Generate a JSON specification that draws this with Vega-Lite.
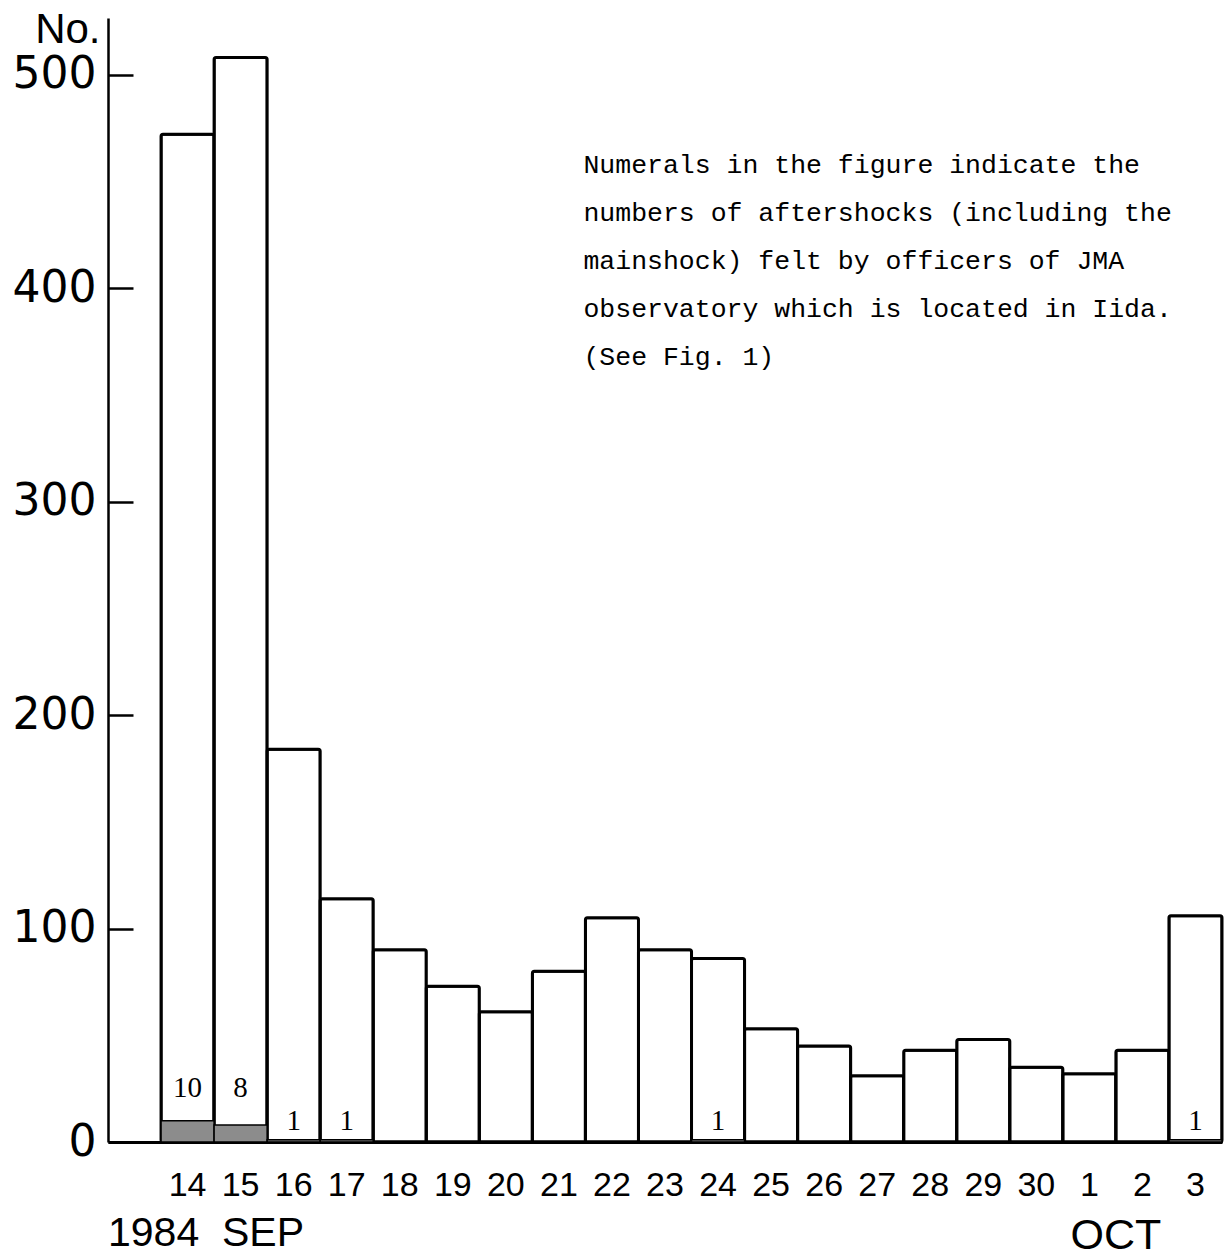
{
  "$schema": "https://vega.github.io/schema/vega-lite/v6.json",
  "autosize": "none",
  "padding": {"left": 108, "top": 18, "right": 3, "bottom": 116},
  "width": 1114,
  "height": 1124,
  "background": "white",
  "config": {"view": {"stroke": null}},
  "data": {
    "values": [
      {"date": "14", "total": 472, "felt": 10},
      {"date": "15", "total": 508, "felt": 8},
      {"date": "16", "total": 184, "felt": 1},
      {"date": "17", "total": 114, "felt": 1},
      {"date": "18", "total": 90, "felt": 0},
      {"date": "19", "total": 73, "felt": 0},
      {"date": "20", "total": 61, "felt": 0},
      {"date": "21", "total": 80, "felt": 0},
      {"date": "22", "total": 105, "felt": 0},
      {"date": "23", "total": 90, "felt": 0},
      {"date": "24", "total": 86, "felt": 1},
      {"date": "25", "total": 53, "felt": 0},
      {"date": "26", "total": 45, "felt": 0},
      {"date": "27", "total": 31, "felt": 0},
      {"date": "28", "total": 43, "felt": 0},
      {"date": "29", "total": 48, "felt": 0},
      {"date": "30", "total": 35, "felt": 0},
      {"date": "1", "total": 32, "felt": 0},
      {"date": "2", "total": 43, "felt": 0},
      {"date": "3", "total": 106, "felt": 1}
    ]
  },
  "encoding": {
    "x": {
      "field": "date",
      "type": "nominal",
      "sort": null,
      "scale": {
        "type": "band",
        "domain": [" ", "14", "15", "16", "17", "18", "19", "20", "21", "22", "23", "24", "25", "26", "27", "28", "29", "30", "1", "2", "3"],
        "paddingInner": 0,
        "paddingOuter": 0
      },
      "axis": {
        "orient": "bottom",
        "title": null,
        "ticks": false,
        "domain": true,
        "domainColor": "black",
        "domainWidth": 3,
        "labelAngle": 0,
        "labelFont": "Liberation Sans",
        "labelFontSize": 34,
        "labelColor": "black",
        "labelBaseline": "middle",
        "labelPadding": 43,
        "labelOverlap": false,
        "labelFlush": false
      }
    }
  },
  "layer": [
    {
      "mark": {"type": "bar", "fill": "white", "stroke": "black", "strokeWidth": 3, "cornerRadius": 2},
      "encoding": {
        "y": {
          "field": "total",
          "type": "quantitative",
          "scale": {"domain": [0, 526.5], "nice": false, "zero": true},
          "axis": {
            "values": [0, 100, 200, 300, 400, 500],
            "grid": false,
            "tickSize": -25,
            "tickWidth": 2.5,
            "tickColor": "black",
            "domainColor": "black",
            "domainWidth": 2.5,
            "labelFont": "DejaVu Sans",
            "labelFontSize": 44,
            "labelColor": "black",
            "labelAlign": "right",
            "labelBaseline": "middle",
            "labelPadding": 37,
            "title": "No.",
            "titleAngle": 0,
            "titleX": -8,
            "titleY": 24,
            "titleAlign": "right",
            "titleBaseline": "alphabetic",
            "titleFont": "Liberation Sans",
            "titleFontSize": 42,
            "titleFontWeight": "normal",
            "titleColor": "black"
          }
        }
      }
    },
    {
      "transform": [{"filter": "datum.felt > 0"}],
      "mark": {"type": "bar", "fill": "#8c8c8c", "stroke": "black", "strokeWidth": 1.5},
      "encoding": {"y": {"field": "felt", "type": "quantitative"}}
    },
    {
      "transform": [{"filter": "datum.felt >= 5"}],
      "mark": {"type": "text", "font": "Liberation Serif", "fontSize": 29, "color": "black", "baseline": "alphabetic"},
      "encoding": {
        "y": {"datum": 21, "type": "quantitative"},
        "text": {"field": "felt", "type": "quantitative"}
      }
    },
    {
      "transform": [{"filter": "datum.felt > 0 && datum.felt < 5"}],
      "mark": {"type": "text", "font": "Liberation Serif", "fontSize": 29, "color": "black", "baseline": "alphabetic", "dy": -10},
      "encoding": {
        "y": {"field": "felt", "type": "quantitative"},
        "text": {"field": "felt", "type": "quantitative"}
      }
    },
    {
      "data": {"values": [{"date": "22", "note": "Numerals in the figure indicate the\nnumbers of aftershocks (including the\nmainshock) felt by officers of JMA\nobservatory which is located in Iida.\n(See Fig. 1)"}]},
      "mark": {"type": "text", "font": "Liberation Mono", "fontSize": 26.5, "color": "black", "align": "left", "baseline": "middle", "lineHeight": 48, "lineBreak": "\n", "dx": -2},
      "encoding": {
        "x": {"field": "date", "type": "nominal", "bandPosition": 0},
        "y": {"datum": 457.6, "type": "quantitative"},
        "text": {"field": "note", "type": "nominal"}
      }
    },
    {
      "data": {"values": [{"date": " ", "label": "1984\u00a0\u00a0SEP"}]},
      "mark": {"type": "text", "font": "Liberation Sans", "fontSize": 41, "color": "black", "align": "left", "baseline": "middle"},
      "encoding": {
        "x": {"field": "date", "type": "nominal", "bandPosition": 0},
        "y": {"datum": -43, "type": "quantitative"},
        "text": {"field": "label", "type": "nominal"}
      }
    },
    {
      "data": {"values": [{"date": "2", "label": "OCT"}]},
      "mark": {"type": "text", "font": "Liberation Sans", "fontSize": 43, "color": "black", "align": "center", "baseline": "middle"},
      "encoding": {
        "x": {"field": "date", "type": "nominal", "bandPosition": 0},
        "y": {"datum": -44, "type": "quantitative"},
        "text": {"field": "label", "type": "nominal"}
      }
    }
  ]
}
